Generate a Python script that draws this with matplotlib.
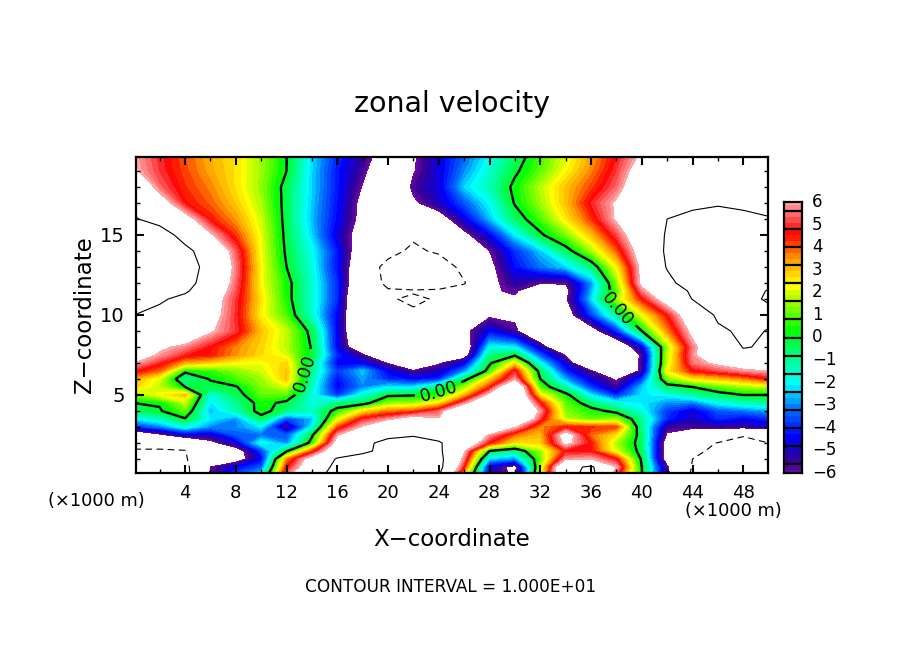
import numpy as np
import matplotlib
matplotlib.use("Agg")
import matplotlib.pyplot as plt
from matplotlib.colors import LinearSegmentedColormap, BoundaryNorm
from matplotlib.ticker import MultipleLocator

x_km = list(range(0, 51, 2))
z_km = [0, 0.5, 1, 1.5, 2, 2.5, 3, 3.5, 4, 4.5, 5, 5.5, 6, 6.5, 7, 7.5, 8,
        9, 10, 11, 11.5, 12, 13, 14, 15, 16, 17, 18, 19, 20]

u_z00 = [-12,-12,-11,-5.8,-3.5,-2,5.5,9,11,11,11,11,10.2,2.5,-4.7,-6.5,2,9,11,5,0.1,-5.5,-10.5,-11,-11,-11]
u_z005 = [-12,-12,-10.8,-6,-4.5,-3.5,4.5,7.5,11,11,11,11,11,4.5,-4.8,-6.6,1.6,9,10.5,6,0,-5.8,-10.2,-11,-11,-11]
u_z01 = [-11,-11,-10.3,-7,-7,-4.5,3.5,7,10.3,11,11,11,11,5.5,-2.5,-3,1,5.8,6,4.6,-0.2,-7,-10,-10.8,-11,-11]
u_z015 = [-10.3,-10.3,-10.1,-7,-7,-3.8,-0.2,4,8,9.5,10.8,11,10.6,6.2,0,-1,1.5,4.5,4.6,2,-0.5,-7,-9.5,-10.5,-10.8,-10.5]
u_z02 = [-9,-9,-9,-6.5,-4.8,-1.8,-3,0.5,7,9.5,10.6,11,10.3,8,4.5,2.5,2.8,6.5,4.5,1.6,-0.6,-7,-9,-10.1,-10.4,-10]
u_z025 = [-8,-6.4,-4.8,-5,-3.5,-3.2,-3.5,-0.2,5.8,9,9.5,9.8,9,9,5.8,3.8,3,7,3.8,2.5,-0.6,-6.2,-8,-8,-9.9,-9]
u_z03 = [-4,-3.2,-1.8,-3,-3,-2.2,-5.7,-2,4,6.2,9,9,9,9,9,6.1,3.6,4.5,4.3,4.1,-1,-5.5,-5.5,-5.5,-5.5,-5]
u_z035 = [-2.2,-1.5,-0.1,-2.2,-3,-0.5,-3.7,-2.6,2,4.8,5.7,7,6.1,9,9,9,5,1.8,1,1.5,-1,-4,-5,-4,-4.5,-4]
u_z04 = [-0.6,-0.1,1,-2.7,-1.3,0.5,-0.8,-1.5,0.5,2.5,3.6,4,5.3,9,9,9,5.8,1.3,0.5,-0.4,-1.8,-3.8,-4.8,-3.5,-3.2,-2.8]
u_z045 = [0,0.1,1.8,-2.2,-1,0.4,-0.3,-1.8,-0.8,-0.5,1.3,1.5,2.5,5.5,9,9,4.6,1,-0.7,-1.8,-2.2,-3,-3.2,-2,-1.5,-1.2]
u_z05 = [1.2,2.3,3,-1.8,-0.5,1,0.9,-1.8,-3.8,-1.7,-0.2,-0.1,0.6,3,6.5,9,2.5,0.4,-2.2,-4,-2.2,-2,-1.2,-0.6,0,0]
u_z055 = [2.8,1.8,0,-0.4,-0.1,1.3,2,-1.5,-4.5,-3,-2.2,-2.2,-0.8,1.5,4.3,9,0.8,-1.3,-3.8,-5.5,-2.5,-0.6,0,1,1.5,1.8]
u_z06 = [3.3,2,-1.2,0.1,0.8,1.5,3,-1.3,-4.3,-2.8,-4,-4.4,-4,-0.5,2.8,5.8,0,-2.8,-4.8,-6.2,-3.8,1.2,2.5,2.9,3.5,4.5]
u_z065 = [4.7,3.8,0.3,0.6,1.3,1.9,3,-1,-3.8,-2.5,-4.5,-5.8,-5,-3,0.6,4.8,-0.5,-4,-5.8,-9,-5.5,2.4,4.5,5.1,5.7,6]
u_z07 = [6,4.8,3.2,2.8,2.3,2.2,2.8,-0.8,-4.5,-4.5,-6.1,-9,-6.2,-4.6,-0.2,2.5,-2,-4.8,-9,-9,-5.5,1.8,5.5,6.3,7,6.5]
u_z075 = [7,5.8,4.8,4.5,3.5,2.7,2,-0.2,-4,-5.7,-9,-9,-9,-7,-0.8,-0.2,-3.5,-6.1,-9,-9,-5.7,1.8,5.7,8,9.5,9]
u_z08 = [7.5,6.3,5.6,4.6,3.6,2.8,1.7,-0.1,-4.5,-8,-9,-9,-9,-7.5,-2,-2.2,-5,-9,-9,-8,-4.7,1.5,5.5,8,10.1,9.8]
u_z09 = [8,8,8,6.2,5,3,1.8,-0.4,-4.5,-9,-9,-9,-9,-6.5,-4.4,-5.6,-9,-9,-7,-4,0,3.5,6.5,9.5,10.5,9.9]
u_z10 = [10,9,8.5,6.8,4.9,2.4,0.8,-1.6,-4.5,-9,-9.5,-9.5,-9,-7,-6.3,-6.4,-9,-7,-3.8,-1,2.2,4.6,7.5,10.5,10.6,10.5]
u_z11 = [11,10.5,9,7,5,2.6,0.4,-1.6,-4,-9.5,-9.7,-10.5,-9.7,-8,-6,-6.2,-9,-6.2,-2.4,1.5,4.5,7,10.1,10.5,10.5,9.8]
u_z115 = [11,11,10.5,7.5,5.2,2.4,0.4,-1.6,-4,-9,-9.8,-9.7,-9.6,-8.8,-6.2,-5.8,-7.5,-6.5,-2.7,0.9,5.5,8,10.5,11,10.7,9.9]
u_z12 = [11,12,11.5,8,5.4,2.3,0.4,-1.6,-4,-8.5,-10.5,-12,-11.5,-10.2,-6.5,-5.2,-5.9,-5.9,-3,1.3,6.5,9.2,11.5,11.5,10.8,10.3]
u_z13 = [11.5,12,12,8.5,5.6,2.3,0,-1.8,-4.3,-8,-11,-13,-12,-9,-6.5,-4.3,-3.2,-2.4,-0.8,2.3,6.5,10.2,12,12,11,10.5]
u_z14 = [12,12.5,11,8,5.3,2.2,-0.2,-1.9,-4.2,-7.5,-9,-10.6,-9.5,-8.5,-6,-3.9,-2.5,-0.5,1.5,3.9,7,10.5,12,12,11.5,11]
u_z15 = [12,12,8.5,6.2,4.2,2.1,-0.3,-2.4,-4.8,-7,-9,-9.5,-9,-6.5,-4.5,-2.2,-0.2,1.2,3,5.1,7.5,10.3,11,11.5,11.2,11]
u_z16 = [10.3,8.5,6.8,4.5,3.4,1.9,-0.4,-2.6,-4.4,-6.6,-9,-9,-7,-4.7,-2.6,-0.6,0.8,2.5,4.2,6.2,8,10,10.6,10.8,10.6,10.2]
u_z17 = [9,7,4.6,3.9,2.9,1.6,-0.4,-2.5,-4.3,-6.5,-9,-6.3,-5,-3.5,-2,0.1,1.5,3,4.8,6.2,8,8,9.5,9.8,9.5,9]
u_z18 = [8,5.4,4.3,3.6,2.6,1.4,-0.4,-2.4,-4.2,-6.1,-9,-5.6,-4.7,-2.4,-1.3,0.3,1.7,3,4.1,5.4,7.5,8,9,9,9,9]
u_z19 = [6.2,5,4.1,3.3,2.6,1.5,0,-2.4,-4.2,-5.6,-8,-6.1,-4.7,-3,-1.6,-0.2,1,2.3,3.6,5,7,8,9,9,9,9]
u_z20 = [6,4.9,4,3.2,2.6,1.5,0,-2.3,-4,-5.3,-7,-6.2,-4.6,-3.4,-2,-0.6,0.7,2,3.3,4.7,6.2,8,9,9,9,9]

cbar_ticks = [-6,-5,-4,-3,-2,-1,0,1,2,3,4,5,6]
cbar_separators = [-5.6,-4.8,-4,-3.2,-2.4,-1.6,-0.8,0,0.8,1.6,2.4,3.2,4,4.8,5.6]
x_labels = [4,8,12,16,20,24,28,32,36,40,44,48]
z_labels = [5,10,15]

u = np.array([u_z00,u_z005,u_z01,u_z015,u_z02,u_z025,u_z03,u_z035,u_z04,u_z045,u_z05,u_z055,u_z06,u_z065,
              u_z07,u_z075,u_z08,u_z09,u_z10,u_z11,u_z115,u_z12,u_z13,u_z14,u_z15,u_z16,u_z17,u_z18,u_z19,u_z20], dtype=float)

W, H = 904, 654
fig = plt.figure(figsize=(W/100, H/100), dpi=100, facecolor="white")
plt.rcParams['font.family'] = 'DejaVu Sans'

def rect(l, t, r, b):
    return [l/W, 1-b/H, (r-l)/W, (b-t)/H]

nodes = [(-6,(110,10,160)),(-5.4,(50,0,150)),(-4.4,(0,0,255)),(-3.2,(0,110,255)),(-2.1,(0,255,255)),
         (-1,(0,255,150)),(0.3,(0,255,0)),(1.3,(130,255,0)),(2.3,(255,255,0)),(3.4,(255,160,0)),
         (4.6,(255,0,0)),(5.3,(255,90,90)),(6,(255,165,165))]
cmap = LinearSegmentedColormap.from_list("rb", [((v+6)/12, tuple(c/255 for c in col)) for v, col in nodes], N=512)
levels = np.concatenate([[-6], np.arange(-22, 23)*0.8/3, [6]])
norm = BoundaryNorm(levels, cmap.N)

ax = fig.add_axes(rect(136, 157, 768, 473))
ax.contourf(x_km, z_km, u, levels=levels, cmap=cmap, norm=norm, antialiased=False)
cs0 = ax.contour(x_km, z_km, u, levels=[0], colors="k", linewidths=1.7)
ax.contour(x_km, z_km, u, levels=[10], colors="k", linewidths=0.8)
ax.contour(x_km, z_km, u, levels=[-10], colors="k", linewidths=0.8, linestyles=[(0, (6, 4))])
labs = ax.clabel(cs0, fmt="%.2f", fontsize=12.5, inline=True, manual=[(13.4, 6.4), (24.1, 5.0), (37.9, 10.2)])
ax.set_xlim(0.13, 49.95)
ax.set_ylim(0.125, 19.875)
ax.xaxis.set_minor_locator(MultipleLocator(2))
ax.yaxis.set_minor_locator(MultipleLocator(1))
ax.tick_params(which="major", direction="in", length=6, width=1.5, top=True, right=True, labelsize=13, pad=8)
ax.tick_params(which="minor", direction="in", length=3, width=1.0, top=True, right=True)
ax.set_xticks(x_labels)
ax.set_xticklabels([str(v) for v in x_labels])
ax.set_yticks(z_labels)
ax.set_yticklabels([str(v) for v in z_labels], fontsize=14)
for s in ax.spines.values():
    s.set_linewidth(1.6)

cax = fig.add_axes(rect(784, 202, 802, 473))
yy = np.linspace(-6, 6, 400)
cax.pcolormesh([0, 1], yy, ((yy[:-1]+yy[1:])/2)[:, None], cmap=cmap, norm=norm)
cax.hlines(cbar_separators, 0, 1, colors="k", linewidths=1.6)
cax.set_xlim(0, 1); cax.set_ylim(-6, 6)
cax.set_xticks([]); cax.set_yticks([])
for s in cax.spines.values():
    s.set_linewidth(1.6)
for v in cbar_ticks:
    cax.text(1.0+10/18, v, str(v).replace("-", "\u2212"), fontsize=12, va="center", ha="left", transform=cax.get_yaxis_transform())

def T(px, py, s, **kw):
    fig.text(px/W, 1-py/H, s, ha=kw.pop("ha", "center"), va="center", **kw)

T(452, 104, "zonal velocity", fontsize=20.5)
T(452, 540, "X\u2212coordinate", fontsize=16.5)
T(84, 315, "Z\u2212coordinate", fontsize=16.5, rotation=90)
T(96, 501, "(\u00d71000 m)", fontsize=12.8)
T(733, 511, "(\u00d71000 m)", fontsize=12.8)
T(451, 587, "CONTOUR INTERVAL = 1.000E+01", fontsize=12.2)

fig.savefig("out.png", dpi=100, facecolor="white")
